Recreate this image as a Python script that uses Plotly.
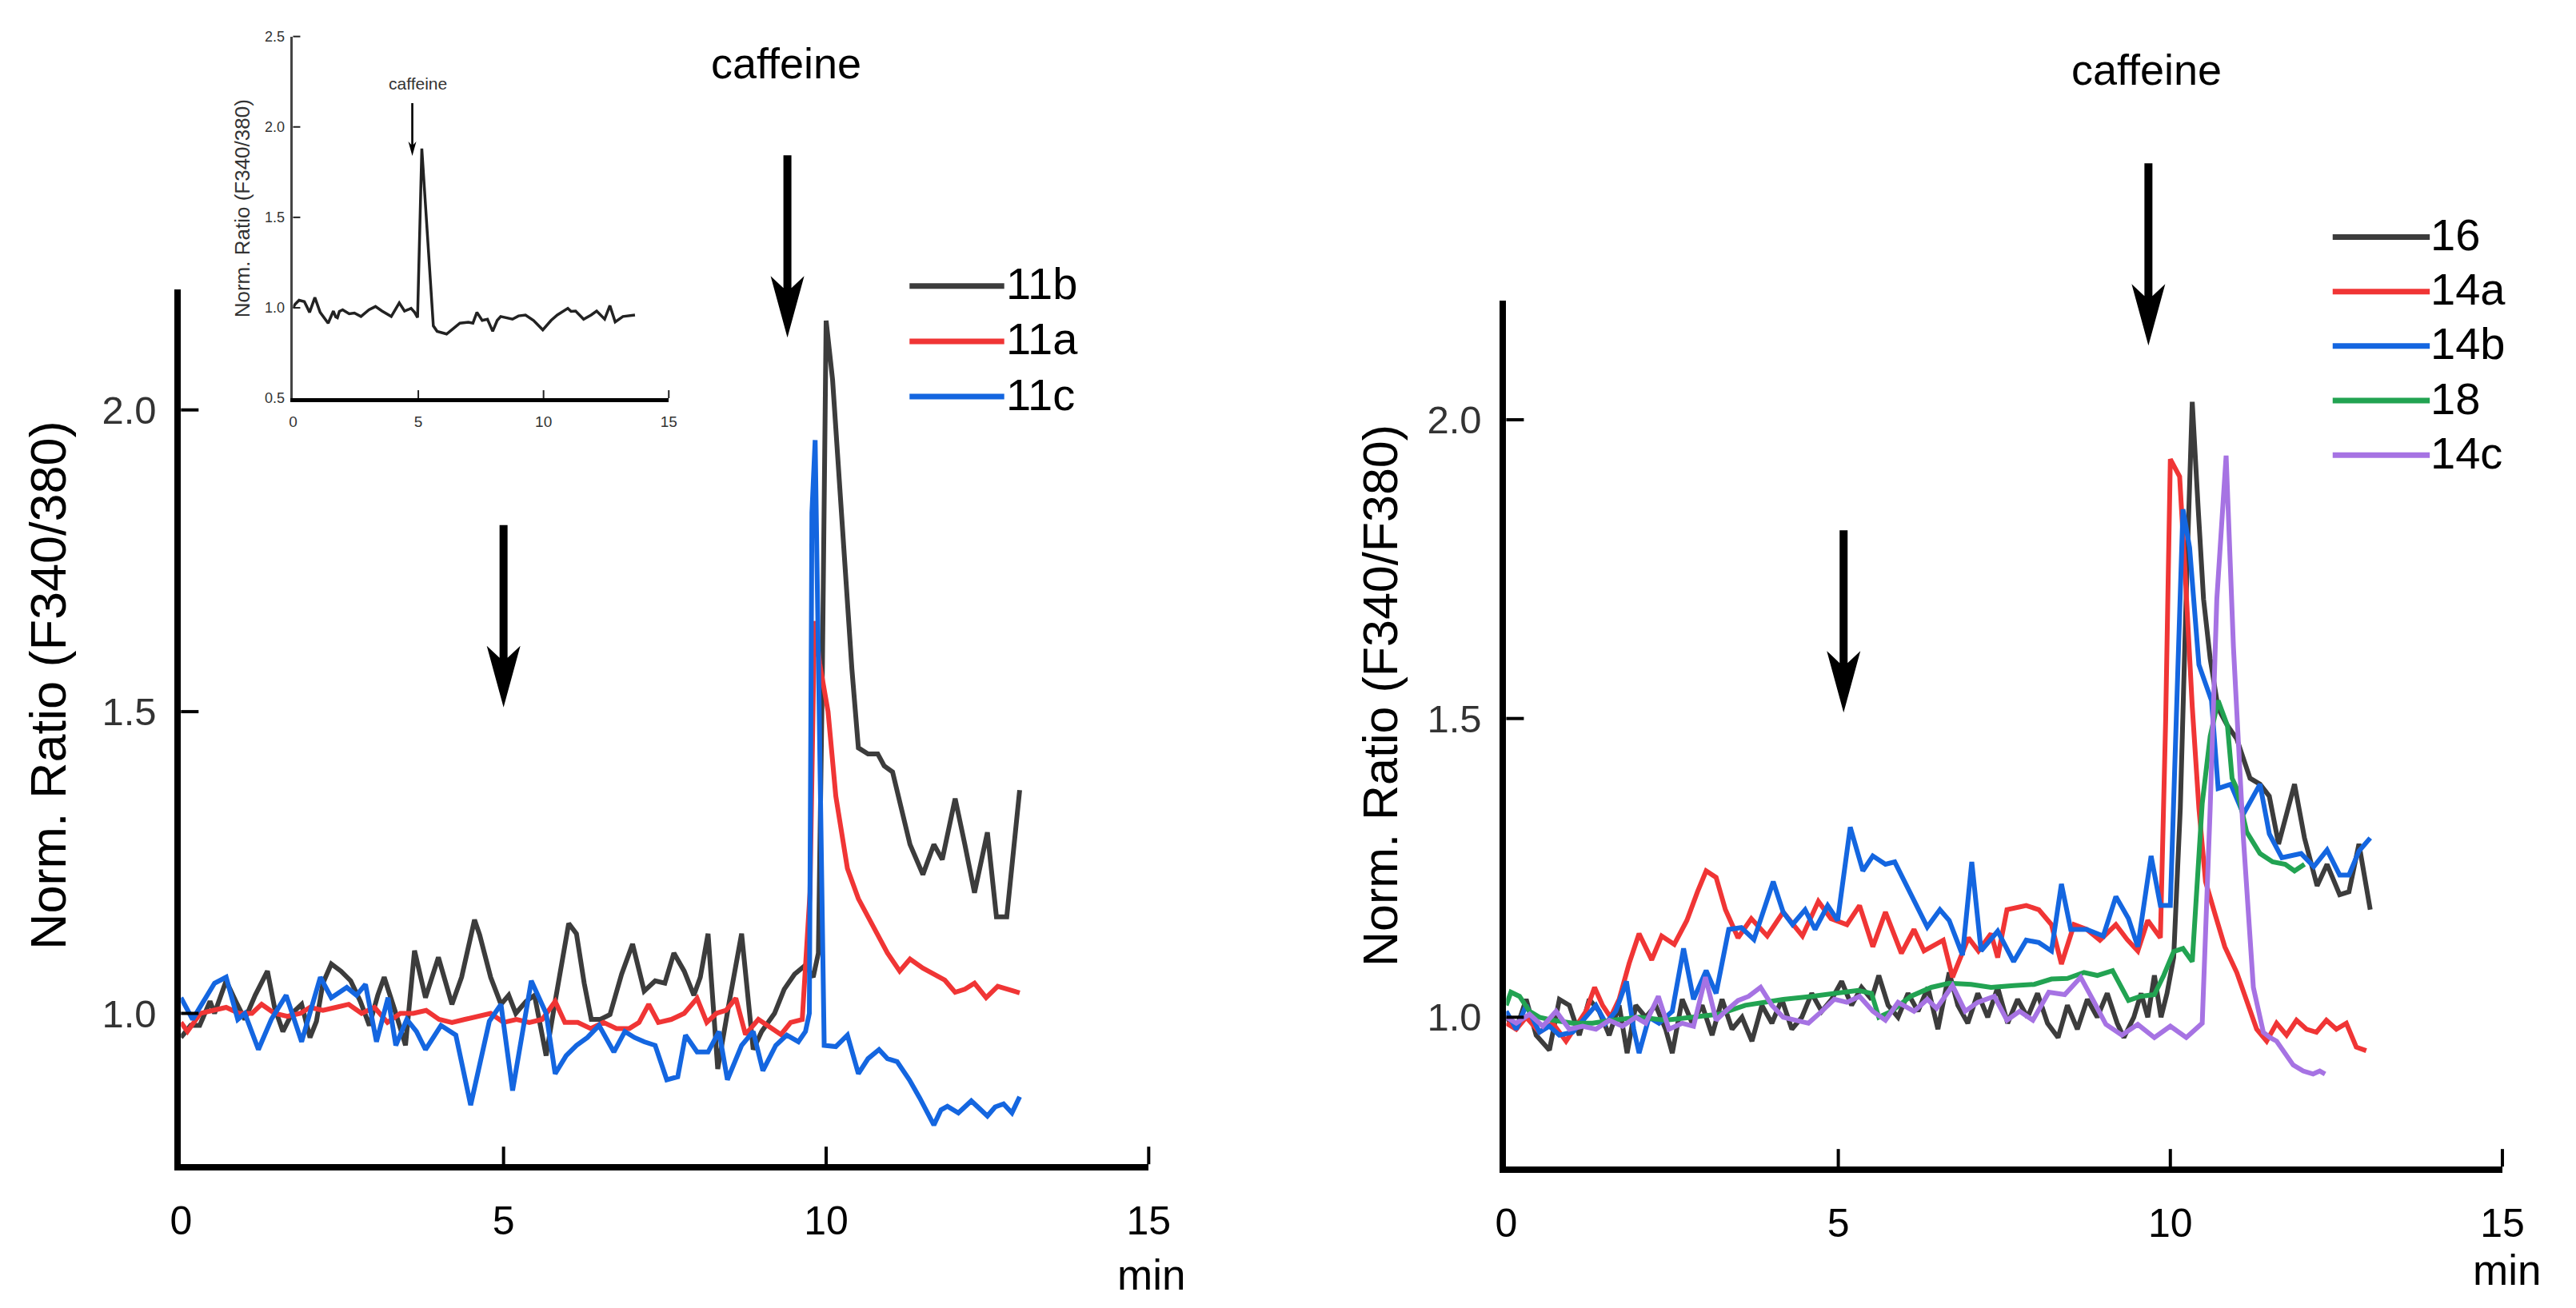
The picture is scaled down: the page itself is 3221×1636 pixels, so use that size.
import plotly.graph_objects as go

# left panel: 11b / 11a / 11c
x_11b = [0.0, 0.15, 0.29, 0.45, 0.52, 0.7, 0.85, 0.99, 1.15, 1.34, 1.45, 1.58, 1.72, 1.87, 2.0, 2.1, 2.2, 2.33,
         2.48, 2.63, 2.78, 2.92, 3.05, 3.15, 3.33, 3.48, 3.62, 3.79, 3.99, 4.2, 4.35, 4.55, 4.63, 4.8, 4.96, 5.08,
         5.19, 5.35, 5.48, 5.66, 5.8, 6.01, 6.13, 6.25, 6.36, 6.5, 6.65, 6.83, 7.0, 7.18, 7.35, 7.5, 7.64, 7.8,
         7.95, 8.05, 8.17, 8.32, 8.5, 8.69, 8.87, 9.0, 9.2, 9.35, 9.51, 9.68, 9.8, 9.88, 9.94, 10.0, 10.1, 10.2,
         10.3, 10.4, 10.5, 10.65, 10.8, 10.9, 11.03, 11.15, 11.3, 11.5, 11.67, 11.8, 12.0, 12.15, 12.3, 12.5,
         12.64, 12.8, 13.0]
y_11b = [0.96, 0.98, 0.98, 1.02, 1.0, 1.054, 1.02, 0.99, 1.03, 1.07, 1.01, 0.97, 1.0, 1.015, 0.96, 0.987, 1.05,
         1.082, 1.07, 1.054, 1.02, 0.98, 1.03, 1.06, 1.0, 0.947, 1.104, 1.026, 1.093, 1.015, 1.06, 1.155, 1.13,
         1.06, 1.015, 1.03, 1.0, 1.02, 1.03, 0.93, 1.02, 1.149, 1.132, 1.05, 0.99, 0.99, 0.998, 1.065, 1.115,
         1.037, 1.054, 1.05, 1.1, 1.07, 1.03, 1.06, 1.132, 0.908, 1.02, 1.132, 0.94, 0.97, 1.0, 1.04, 1.065,
         1.08, 1.06, 1.1, 1.55, 2.148, 2.05, 1.88, 1.72, 1.57, 1.44, 1.43, 1.43, 1.41, 1.4, 1.35, 1.28, 1.23,
         1.28, 1.255, 1.356, 1.28, 1.2, 1.3, 1.16, 1.16, 1.37]

x_11a = [0.0, 0.1, 0.3, 0.5, 0.7, 0.9, 1.1, 1.25, 1.45, 1.65, 1.85, 2.0, 2.2, 2.4, 2.6, 2.8, 3.0, 3.2, 3.4, 3.6,
         3.8, 4.0, 4.2, 4.4, 4.6, 4.8, 5.0, 5.2, 5.4, 5.6, 5.8, 5.95, 6.15, 6.35, 6.55, 6.75, 6.95, 7.1, 7.25,
         7.4, 7.6, 7.8, 8.0, 8.15, 8.3, 8.45, 8.6, 8.75, 8.95, 9.15, 9.3, 9.45, 9.63, 9.75, 9.82, 9.9, 10.03,
         10.15, 10.33, 10.5, 10.65, 10.8, 10.95, 11.14, 11.3, 11.5, 11.68, 11.84, 12.0, 12.15, 12.3, 12.48,
         12.66, 12.84, 13.0]
y_11a = [0.985, 0.97, 1.0, 1.005, 1.01, 1.0, 1.0, 1.015, 1.0, 0.995, 1.0, 1.01, 1.005, 1.01, 1.015, 1.0, 1.01,
         0.985, 1.0, 1.0, 1.005, 0.99, 0.985, 0.99, 0.995, 1.0, 0.985, 0.99, 0.985, 0.99, 1.02, 0.985, 0.985,
         0.975, 0.985, 0.975, 0.975, 0.985, 1.015, 0.985, 0.99, 1.0, 1.025, 0.985, 1.0, 1.005, 1.025, 0.965,
         0.99, 0.975, 0.965, 0.985, 0.99, 1.2, 1.65, 1.58, 1.5, 1.36, 1.24, 1.19, 1.16, 1.13, 1.1, 1.07, 1.09,
         1.075, 1.065, 1.055, 1.035, 1.04, 1.05, 1.026, 1.045, 1.04, 1.034]

x_11c = [0.0, 0.18, 0.35, 0.52, 0.7, 0.88, 0.99, 1.2, 1.4, 1.63, 1.87, 2.0, 2.16, 2.33, 2.57, 2.72, 2.86, 3.03,
         3.21, 3.33, 3.5, 3.65, 3.79, 4.03, 4.26, 4.49, 4.78, 4.96, 5.14, 5.43, 5.66, 5.8, 5.97, 6.13, 6.3, 6.48,
         6.71, 6.88, 7.03, 7.18, 7.35, 7.53, 7.7, 7.82, 8.0, 8.17, 8.34, 8.47, 8.69, 8.87, 9.02, 9.22, 9.39,
         9.57, 9.68, 9.74, 9.78, 9.83, 9.9, 9.97, 10.15, 10.33, 10.5, 10.65, 10.82, 10.95, 11.1, 11.29, 11.45,
         11.67, 11.78, 11.88, 12.05, 12.25, 12.4, 12.5, 12.62, 12.75, 12.88, 13.0]
y_11c = [1.026, 0.99, 1.02, 1.05, 1.06, 0.99, 1.0, 0.94, 0.99, 1.03, 0.953, 1.0, 1.06, 1.026, 1.043, 1.03, 1.048,
         0.953, 1.026, 0.947, 0.99, 0.97, 0.94, 0.98, 0.964, 0.848, 0.987, 1.015, 0.872, 1.054, 1.0, 0.9, 0.93,
         0.947, 0.96, 0.98, 0.936, 0.97, 0.96, 0.953, 0.947, 0.89, 0.895, 0.964, 0.936, 0.936, 0.97, 0.89,
         0.947, 0.97, 0.905, 0.947, 0.964, 0.953, 0.97, 1.0, 1.83, 1.95, 1.4, 0.947, 0.945, 0.964, 0.9, 0.925,
         0.94, 0.925, 0.92, 0.89, 0.86, 0.815, 0.84, 0.846, 0.835, 0.855, 0.84, 0.83, 0.845, 0.85, 0.835, 0.862]

# right panel: 16 / 14a / 14b / 18 / 14c
x_16 = [0.0, 0.15, 0.3, 0.45, 0.65, 0.8, 0.95, 1.1, 1.25, 1.4, 1.55, 1.7, 1.82, 1.95, 2.1, 2.25, 2.4, 2.5, 2.65,
        2.8, 2.95, 3.1, 3.25, 3.4, 3.55, 3.7, 3.85, 4.0, 4.15, 4.3, 4.45, 4.6, 4.75, 4.9, 5.05, 5.2, 5.35, 5.5,
        5.61, 5.75, 5.9, 6.05, 6.2, 6.35, 6.5, 6.67, 6.8, 6.95, 7.1, 7.25, 7.4, 7.55, 7.7, 7.85, 8.0, 8.15, 8.31,
        8.45, 8.6, 8.75, 8.9, 9.05, 9.2, 9.3, 9.45, 9.56, 9.66, 9.76, 9.86, 9.95, 10.05, 10.15, 10.25, 10.33,
        10.42, 10.5, 10.6, 10.72, 10.85, 11.0, 11.2, 11.35, 11.49, 11.63, 11.87, 12.02, 12.21, 12.36, 12.55,
        12.69, 12.84, 13.01]
y_16 = [1.0, 0.98, 1.03, 0.97, 0.945, 1.03, 1.02, 0.97, 1.03, 1.01, 0.97, 1.02, 0.94, 1.02, 1.0, 1.02, 0.98,
        0.94, 1.03, 0.99, 1.02, 0.97, 1.03, 0.98, 1.0, 0.96, 1.02, 0.99, 1.03, 0.98, 1.0, 1.04, 1.01, 1.03, 1.06,
        1.02, 1.05, 1.03, 1.07, 1.02, 1.0, 1.04, 1.01, 1.05, 0.98, 1.075, 1.02, 0.99, 1.04, 1.0, 1.05, 0.99,
        1.03, 1.0, 1.04, 0.99, 0.966, 1.02, 0.98, 1.03, 1.0, 1.04, 0.99, 0.966, 1.0, 1.04, 1.0, 1.07, 1.0, 1.04,
        1.1, 1.35, 1.75, 2.03, 1.85, 1.7, 1.6, 1.517, 1.49, 1.466, 1.4, 1.39, 1.37, 1.29, 1.39, 1.3, 1.22, 1.256,
        1.205, 1.21, 1.29, 1.18]

x_14a = [0.0, 0.15, 0.3, 0.5, 0.7, 0.9, 1.05, 1.2, 1.33, 1.45, 1.57, 1.7, 1.85, 2.0, 2.19, 2.34, 2.53, 2.72,
         2.88, 3.01, 3.16, 3.3, 3.49, 3.69, 3.93, 4.17, 4.46, 4.7, 4.89, 5.13, 5.32, 5.52, 5.71, 5.95, 6.14, 6.29,
         6.58, 6.72, 6.96, 7.11, 7.3, 7.4, 7.54, 7.83, 8.02, 8.21, 8.36, 8.55, 8.74, 8.94, 9.18, 9.35, 9.51,
         9.66, 9.85, 9.93, 10.0, 10.14, 10.22, 10.33, 10.43, 10.53, 10.68, 10.82, 11.0, 11.15, 11.3, 11.45, 11.6,
         11.75, 11.9, 12.05, 12.2, 12.35, 12.5, 12.65, 12.8, 12.95]
y_14a = [0.99, 0.98, 1.0, 0.975, 0.99, 0.96, 0.985, 1.01, 1.05, 1.02, 1.0, 1.03, 1.09, 1.14, 1.096, 1.136,
         1.122, 1.162, 1.21, 1.245, 1.234, 1.18, 1.133, 1.165, 1.136, 1.176, 1.136, 1.194, 1.165, 1.155, 1.187,
         1.118, 1.176, 1.107, 1.147, 1.111, 1.129, 1.067, 1.133, 1.111, 1.14, 1.1, 1.18, 1.187, 1.18, 1.155,
         1.089, 1.155, 1.147, 1.129, 1.155, 1.13, 1.111, 1.162, 1.133, 1.5, 1.934, 1.905, 1.75, 1.52, 1.35,
         1.227, 1.17, 1.118, 1.075, 1.03, 0.98, 0.96, 0.99, 0.97, 0.995, 0.98, 0.975, 0.995, 0.98, 0.99, 0.95,
         0.944]

x_14b = [0.0, 0.15, 0.3, 0.5, 0.65, 0.8, 1.0, 1.2, 1.35, 1.5, 1.65, 1.81, 1.92, 2.0, 2.15, 2.3, 2.5, 2.67, 2.82,
         3.01, 3.16, 3.35, 3.54, 3.73, 4.02, 4.17, 4.31, 4.5, 4.65, 4.84, 4.99, 5.18, 5.37, 5.52, 5.71, 5.85,
         6.09, 6.34, 6.53, 6.67, 6.87, 7.01, 7.15, 7.4, 7.64, 7.83, 8.02, 8.21, 8.36, 8.5, 8.74, 8.99, 9.18,
         9.37, 9.51, 9.71, 9.85, 10.0, 10.19, 10.29, 10.43, 10.62, 10.72, 10.91, 11.1, 11.35, 11.49, 11.68,
         11.97, 12.16, 12.36, 12.55, 12.69, 12.84, 13.01]
y_14b = [1.01, 0.98, 1.02, 0.975, 0.985, 0.97, 0.975, 1.0, 1.02, 0.99, 1.01, 1.06, 0.98, 0.94, 1.0, 0.99, 1.01,
         1.115, 1.03, 1.078, 1.04, 1.147, 1.15, 1.13, 1.227, 1.176, 1.155, 1.18, 1.147, 1.187, 1.162, 1.318,
         1.245, 1.27, 1.256, 1.26, 1.205, 1.151, 1.18, 1.162, 1.104, 1.26, 1.111, 1.144, 1.093, 1.129, 1.125,
         1.111, 1.223, 1.147, 1.147, 1.136, 1.202, 1.165, 1.118, 1.27, 1.187, 1.187, 1.85, 1.786, 1.59, 1.53,
         1.383, 1.39, 1.34, 1.39, 1.307, 1.267, 1.274, 1.252, 1.28, 1.238, 1.238, 1.278, 1.3]

x_18 = [0.0, 0.07, 0.2, 0.35, 0.5, 0.7, 1.0, 1.3, 1.6, 2.0, 2.4, 2.8, 3.2, 3.6, 4.17, 4.6, 5.0, 5.3, 5.5, 5.61,
        5.8, 6.09, 6.4, 6.67, 7.0, 7.3, 7.64, 7.95, 8.21, 8.45, 8.7, 8.9, 9.13, 9.37, 9.55, 9.76, 9.9, 10.05,
        10.19, 10.33, 10.48, 10.6, 10.72, 10.86, 10.93, 11.0, 11.15, 11.35, 11.54, 11.73, 11.87, 12.02]
y_18 = [1.02, 1.042, 1.035, 1.01, 1.0, 0.995, 0.99, 0.99, 0.995, 1.0, 0.995, 1.0, 1.005, 1.02, 1.03, 1.035,
        1.04, 1.045, 1.04, 1.0, 1.01, 1.035, 1.05, 1.057, 1.055, 1.05, 1.053, 1.055, 1.064, 1.065, 1.075, 1.07,
        1.078, 1.028, 1.035, 1.038, 1.07, 1.11, 1.115, 1.093, 1.358, 1.47, 1.53, 1.488, 1.4, 1.383, 1.31, 1.274,
        1.26, 1.256, 1.245, 1.256]

x_14c = [0.0, 0.15, 0.35, 0.55, 0.75, 0.95, 1.15, 1.35, 1.55, 1.75, 1.95, 2.1, 2.29, 2.45, 2.65, 2.82, 3.0,
         3.16, 3.3, 3.49, 3.65, 3.83, 4.0, 4.17, 4.36, 4.55, 4.75, 4.94, 5.13, 5.32, 5.52, 5.71, 5.9, 6.14, 6.34,
         6.48, 6.72, 6.91, 7.1, 7.35, 7.54, 7.73, 7.93, 8.17, 8.41, 8.65, 8.84, 9.03, 9.27, 9.51, 9.76, 10.0,
         10.24, 10.48, 10.6, 10.7, 10.84, 10.95, 11.1, 11.25, 11.4, 11.5, 11.6, 11.72, 11.85, 12.0, 12.15,
         12.25, 12.33]
y_14c = [1.0, 0.99, 1.005, 0.985, 1.01, 0.98, 0.985, 0.98, 0.995, 0.985, 1.0, 0.99, 1.035, 0.98, 0.99, 0.985,
         1.067, 0.995, 1.01, 1.028, 1.035, 1.05, 1.02, 1.0, 0.995, 0.99, 1.01, 1.03, 1.025, 1.035, 1.01, 0.995,
         1.025, 1.01, 1.03, 1.015, 1.053, 1.01, 1.025, 1.035, 0.995, 1.01, 0.995, 1.042, 1.038, 1.067, 1.028,
         0.988, 0.97, 0.988, 0.966, 0.985, 0.966, 0.99, 1.35, 1.7, 1.94, 1.62, 1.3, 1.05, 0.975, 0.966, 0.96,
         0.94, 0.92, 0.91, 0.905, 0.91, 0.905]

# inset trace
x_inset = [0.0, 0.08, 0.24, 0.45, 0.66, 0.87, 1.08, 1.4, 1.61, 1.7, 1.77, 1.85, 1.98, 2.24, 2.45, 2.71, 3.03,
           3.29, 3.55, 3.92, 4.24, 4.45, 4.6, 4.71, 4.85, 4.97, 5.14, 5.3, 5.45, 5.6, 5.75, 6.13, 6.4, 6.66, 7.0,
           7.18, 7.34, 7.55, 7.76, 7.97, 8.15, 8.29, 8.76, 9.0, 9.28, 9.6, 9.97, 10.3, 10.55, 10.97, 11.1, 11.28,
           11.6, 11.9, 12.12, 12.44, 12.65, 12.86, 13.17, 13.4, 13.65]
y_inset = [1.0, 1.019, 1.042, 1.034, 0.975, 1.057, 0.975, 0.915, 0.982, 0.95, 0.945, 0.98, 0.989, 0.967, 0.971,
           0.952, 0.989, 1.007, 0.982, 0.952, 1.027, 0.982, 0.99, 0.997, 0.975, 0.946, 1.88, 1.55, 1.2, 0.9, 0.87,
           0.855, 0.885, 0.915, 0.92, 0.915, 0.975, 0.93, 0.937, 0.87, 0.93, 0.952, 0.937, 0.955, 0.96, 0.93,
           0.878, 0.93, 0.96, 0.997, 0.98, 0.982, 0.937, 0.96, 0.982, 0.937, 1.012, 0.922, 0.952, 0.955, 0.96]

# arrow tips (data units of each panel)
arrow_left_x = [5.0, 9.4]
arrow_left_y = [1.507, 2.12]
arrow_right_x = [5.08, 9.67]
arrow_right_y = [1.51, 2.124]
arrow_inset_x = [4.76]
arrow_inset_y = [1.84]

x_ticks = [0, 5, 10, 15]
y_ticks = [1.0, 1.5, 2.0]
inset_y_ticks = [0.5, 1.0, 1.5, 2.0, 2.5]

left_names = ['11b', '11a', '11c']
right_names = ['16', '14a', '14b', '18', '14c']

GRAY = '#3c3c3c'
RED = '#f03535'
BLUE = '#1466e0'
GREEN = '#22a352'
PURPLE = '#a673e3'

W, H = 3221, 1636
FONT = 'Liberation Sans, Arial, sans-serif'


def px(x):
    return x / W


def py(y):
    return (H - y) / H


def frac(v, r):
    return (v - r[0]) / (r[1] - r[0])


def arrow(x, y, xa, ya, xr, yr, length, head, half, notch, shaft):
    path = ('M0,0 L{},{} L{},{} L{},{} L{},{} L{},{} L{},{} Z'
            .format(-half, head, -shaft, notch, -shaft, length, shaft, length, shaft, notch, half, head))
    return dict(type='path', xref=xa + ' domain', yref=ya + ' domain', xsizemode='pixel', ysizemode='pixel',
                xanchor=frac(x, xr), yanchor=frac(y, yr), path=path, fillcolor='black',
                line=dict(width=0), layer='above')


def tick_marks(xa, ya, xr, yr, xt, yt, xlen, ylen, width, color):
    # inward tick marks, drawn as shapes so they sit on the axis lines
    out = []
    for v in xt:
        out.append(dict(type='line', xref=xa + ' domain', yref=ya + ' domain', ysizemode='pixel', yanchor=0,
                        x0=frac(v, xr), x1=frac(v, xr), y0=0, y1=xlen, line=dict(color=color, width=width)))
    for v in yt:
        out.append(dict(type='line', xref=xa + ' domain', yref=ya + ' domain', xsizemode='pixel', xanchor=0,
                        x0=0, x1=ylen, y0=frac(v, yr), y1=frac(v, yr), line=dict(color=color, width=width)))
    return out


def main():
    fig = go.Figure()

    for xs, ys, c in [(x_11b, y_11b, GRAY), (x_11a, y_11a, RED), (x_11c, y_11c, BLUE)]:
        fig.add_trace(go.Scatter(x=xs, y=ys, mode='lines', line=dict(color=c, width=6),
                                 showlegend=False, xaxis='x', yaxis='y'))
    for xs, ys, c in [(x_16, y_16, GRAY), (x_14a, y_14a, RED), (x_14b, y_14b, BLUE),
                      (x_18, y_18, GREEN), (x_14c, y_14c, PURPLE)]:
        fig.add_trace(go.Scatter(x=xs, y=ys, mode='lines', line=dict(color=c, width=6),
                                 showlegend=False, xaxis='x2', yaxis='y2'))
    fig.add_trace(go.Scatter(x=x_inset, y=y_inset, mode='lines', line=dict(color='#222222', width=3.5),
                             showlegend=False, xaxis='x3', yaxis='y3'))

    xr = [0, 15]
    yr = [0.75, 2.2]
    yr_in = [0.5, 2.5]

    main_x = dict(range=xr, tickvals=x_ticks, showline=True, linewidth=8, linecolor='black', ticks='',
                  showgrid=False, zeroline=False, tickfont=dict(family=FONT, size=50, color='black'),
                  ticklabelstandoff=20)
    main_y = dict(range=yr, tickvals=y_ticks, ticktext=['%.1f' % v for v in y_ticks], showline=True,
                  linewidth=8, linecolor='black', ticks='', showgrid=False, zeroline=False,
                  tickfont=dict(family=FONT, size=49, color='#333333'), ticklabelstandoff=13)

    fig.update_layout(
        width=W, height=H, margin=dict(l=0, r=0, t=0, b=0),
        paper_bgcolor='white', plot_bgcolor='rgba(0,0,0,0)', showlegend=False,
        xaxis=dict(main_x, domain=[px(207), px(1433)], anchor='y'),
        yaxis=dict(main_y, domain=[py(1456), py(348)], anchor='x'),
        xaxis2=dict(main_x, domain=[px(1886), px(3148)], anchor='y2'),
        yaxis2=dict(main_y, domain=[py(1459), py(362)], anchor='x2'),
        xaxis3=dict(range=xr, tickvals=x_ticks, domain=[px(349), px(825)], anchor='y3', showline=True,
                    linewidth=5, linecolor='black', ticks='', showgrid=False, zeroline=False,
                    tickfont=dict(family=FONT, size=19, color='#333333'), ticklabelstandoff=8),
        yaxis3=dict(range=yr_in, tickvals=inset_y_ticks, ticktext=['%.1f' % v for v in inset_y_ticks],
                    domain=[py(486), py(28)], anchor='x3', showline=True, linewidth=2.5, linecolor='#444444',
                    ticks='', showgrid=False, zeroline=False,
                    tickfont=dict(family=FONT, size=18, color='#333333'), ticklabelstandoff=4),
    )

    shapes = []
    shapes += tick_marks('x', 'y', xr, yr, x_ticks[1:], y_ticks, 22, 22, 4, 'black')
    shapes += tick_marks('x2', 'y2', xr, yr, x_ticks[1:], y_ticks, 22, 22, 4, 'black')
    shapes += tick_marks('x3', 'y3', xr, yr_in, x_ticks[1:], inset_y_ticks[1:], 10, 9, 2, '#222222')

    for x, y in zip(arrow_left_x, arrow_left_y):
        shapes.append(arrow(x, y, 'x', 'y', xr, yr, 228, 77, 21, 62, 5))
    for x, y in zip(arrow_right_x, arrow_right_y):
        shapes.append(arrow(x, y, 'x2', 'y2', xr, yr, 228, 77, 21, 62, 5))
    for x, y in zip(arrow_inset_x, arrow_inset_y):
        shapes.append(arrow(x, y, 'x3', 'y3', xr, yr_in, 66, 18, 5, 14, 1.3))

    # hand drawn legends: long line sample + label
    ann = []
    for i, (name, c) in enumerate(zip(left_names, [GRAY, RED, BLUE])):
        yy = 344 + i * 70
        shapes.append(dict(type='line', xref='paper', yref='paper', x0=px(1130), x1=px(1250),
                           y0=py(yy), y1=py(yy), line=dict(color=c, width=7)))
        ann.append(dict(x=px(1250), y=py(yy - 3), text=name))
    for i, (name, c) in enumerate(zip(right_names, [GRAY, RED, BLUE, GREEN, PURPLE])):
        yy = 282 + i * 69
        shapes.append(dict(type='line', xref='paper', yref='paper', x0=px(2933), x1=px(3056),
                           y0=py(yy), y1=py(yy), line=dict(color=c, width=7)))
        ann.append(dict(x=px(3055), y=py(yy - 3), text=name))
    for a in ann:
        a.update(xref='paper', yref='paper', showarrow=False, xanchor='left', yanchor='middle',
                 font=dict(family=FONT, size=56, color='black'))

    extra = [
        dict(x=px(974), y=py(62), text='caffeine', font=dict(family=FONT, size=54, color='black')),
        dict(x=px(2697), y=py(70), text='caffeine', font=dict(family=FONT, size=54, color='black')),
        dict(x=px(507), y=py(88), text='caffeine', font=dict(family=FONT, size=21, color='#333333')),
        dict(x=px(1436), y=py(1596), text='min', font=dict(family=FONT, size=53, color='black')),
        dict(x=px(3154), y=py(1590), text='min', font=dict(family=FONT, size=53, color='black')),
        dict(x=px(38), y=py(850), text='Norm. Ratio (F340/380)', textangle=-90,
             font=dict(family=FONT, size=63, color='black')),
        dict(x=px(1727), y=py(862), text='Norm. Ratio (F340/F380)', textangle=-90,
             font=dict(family=FONT, size=61, color='black')),
        dict(x=px(285), y=py(246), text='Norm. Ratio (F340/380)', textangle=-90,
             font=dict(family=FONT, size=26, color='#333333')),
    ]
    for a in extra:
        a.update(xref='paper', yref='paper', showarrow=False, xanchor='center', yanchor='middle')

    fig.update_layout(shapes=shapes, annotations=ann + extra)
    fig.write_html('out.html')


if __name__ == '__main__':
    main()
